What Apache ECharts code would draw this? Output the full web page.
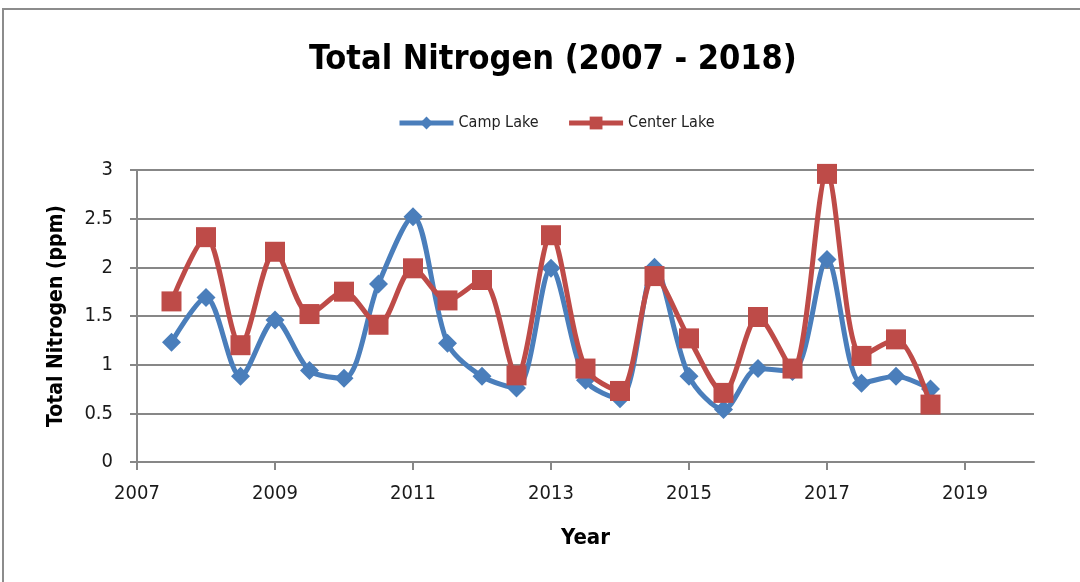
<!DOCTYPE html>
<html>
<head>
<meta charset="utf-8">
<script src="https://cdn.jsdelivr.net/npm/echarts@6/dist/echarts.min.js"></script>
<style>
  html, body { margin: 0; padding: 0; background: #fff; }
  #frame { position: absolute; left: 2px; top: 8px; width: 1200px; height: 700px;
           border-left: 2px solid #8c8c8c; border-top: 2px solid #8c8c8c; }
  #chart { position: absolute; left: 0; top: 0; width: 1080px; height: 582px; }
</style>
</head>
<body>
<div id="frame"></div>
<div id="chart"></div>
<script>
// ── Data ─────────────────────────────────────────────────────────────────────
var years = [2007.5, 2008, 2008.5, 2009, 2009.5, 2010, 2010.5, 2011, 2011.5, 2012,
             2012.5, 2013, 2013.5, 2014, 2014.5, 2015, 2015.5, 2016, 2016.5, 2017,
             2017.5, 2018, 2018.5];
var campLake   = [1.23, 1.69, 0.88, 1.46, 0.94, 0.86, 1.83, 2.52, 1.22, 0.88,
                  0.76, 1.99, 0.84, 0.65, 2.00, 0.88, 0.54, 0.96, 0.93, 2.08,
                  0.81, 0.88, 0.75];
var centerLake = [1.65, 2.31, 1.20, 2.16, 1.52, 1.75, 1.41, 1.99, 1.66, 1.87,
                  0.89, 2.33, 0.96, 0.73, 1.91, 1.27, 0.71, 1.49, 0.96, 2.96,
                  1.09, 1.26, 0.59];
var xTicks = [2007, 2009, 2011, 2013, 2015, 2017, 2019];

// ── Style ────────────────────────────────────────────────────────────────────
var C = { blue: '#4a7ebb', red: '#be4b48', grid: '#878787', text: '#1a1a1a' };
var FONT = "'Liberation Sans Narrow', 'DejaVu Sans Condensed', 'Open Sans', sans-serif";

function pairs(xs, ys) {
  return xs.map(function(x, i) { return [x, ys[i]]; });
}

var chart = echarts.init(document.getElementById('chart'), null, { renderer: 'canvas' });
chart.setOption({
  backgroundColor: 'transparent',
  animation: false,
  textStyle: { fontFamily: FONT, color: C.text },
  title: {
    text: 'Total Nitrogen (2007 - 2018)',
    left: 304, top: 38,
    textStyle: { fontFamily: FONT, fontSize: 34, fontWeight: 'bold', color: '#000' }
  },
  legend: {
    top: 110, left: 392,
    itemWidth: 54, itemHeight: 16, itemGap: 28,
    lineStyle: { width: 5 },
    textStyle: { fontFamily: FONT, fontSize: 16, color: '#222' },
    data: ['Camp Lake', 'Center Lake']
  },
  grid: { left: 137, right: 46, top: 170, bottom: 120, containLabel: false },
  xAxis: {
    type: 'value', min: 2007, max: 2020,
    name: 'Year', nameLocation: 'middle', nameGap: 65,
    nameTextStyle: { fontFamily: FONT, fontSize: 22, fontWeight: 'bold', color: '#000' },
    axisLine: { show: true, onZero: false, lineStyle: { color: C.grid, width: 2 } },
    axisTick: { show: true, inside: false, length: 8, customValues: xTicks,
                lineStyle: { color: C.grid, width: 2 } },
    axisLabel: { customValues: xTicks, margin: 22, fontSize: 20, color: '#1a1a1a',
                 formatter: function(v) { return String(v); } },
    splitLine: { show: false }
  },
  yAxis: {
    type: 'value', min: 0, max: 3, interval: 0.5,
    name: 'Total Nitrogen (ppm)', nameLocation: 'middle', nameGap: 70,
    nameTextStyle: { fontFamily: FONT, fontSize: 21, fontWeight: 'bold', color: '#000' },
    axisLine: { show: true, lineStyle: { color: C.grid, width: 2 } },
    axisTick: { show: true, inside: false, length: 7, lineStyle: { color: C.grid, width: 2 } },
    axisLabel: { margin: 24, fontSize: 20, color: '#1a1a1a' },
    splitLine: { show: true, lineStyle: { color: C.grid, width: 2 } }
  },
  series: [{
    name: 'Camp Lake', type: 'line', smooth: 0.3,
    data: pairs(years, campLake),
    symbol: 'diamond', symbolSize: 19,
    lineStyle: { color: C.blue, width: 5 },
    itemStyle: { color: C.blue },
    z: 2
  }, {
    name: 'Center Lake', type: 'line', smooth: 0.3,
    data: pairs(years, centerLake),
    symbol: 'rect', symbolSize: 20,
    lineStyle: { color: C.red, width: 5 },
    itemStyle: { color: C.red },
    z: 3
  }]
});
</script>
</body>
</html>
